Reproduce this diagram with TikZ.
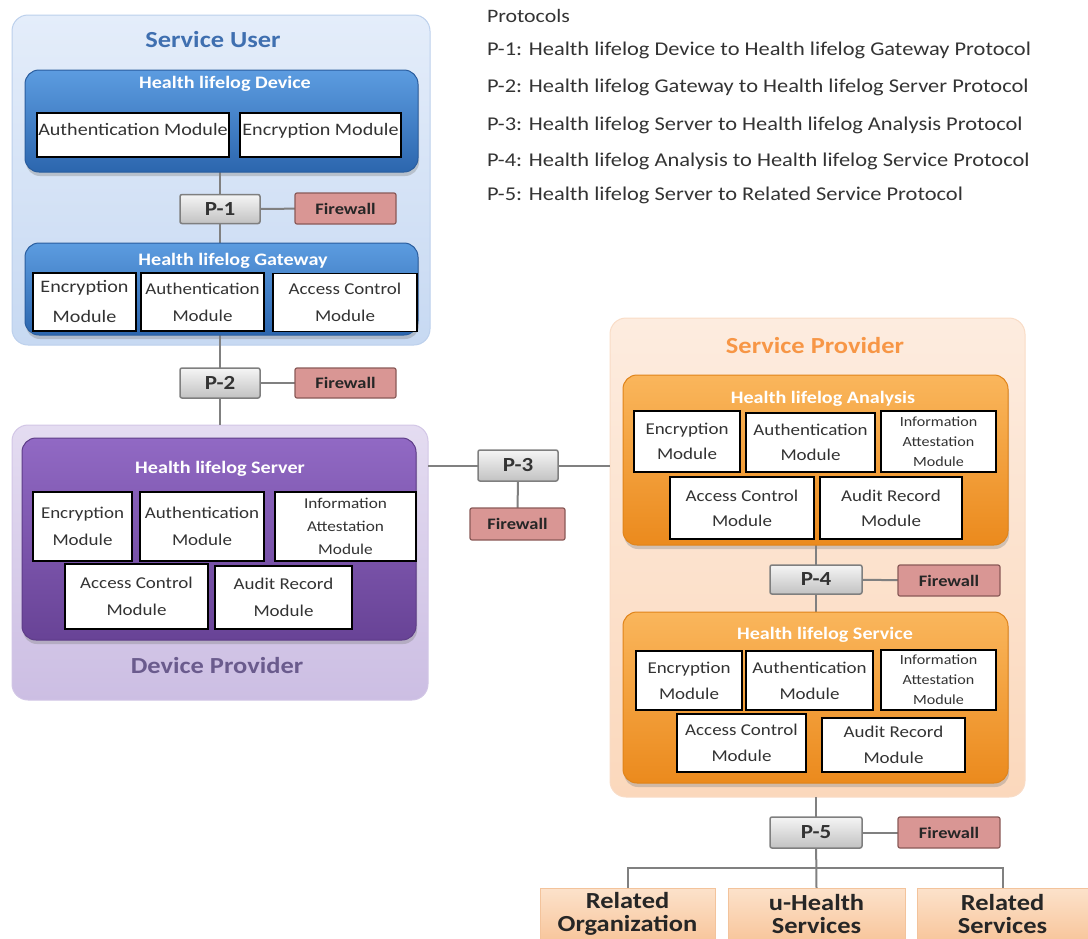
\documentclass[tikz,border=0pt]{standalone}
\usepackage{fontspec}
\setmainfont{Carlito}[FakeStretch=1.15]
\usetikzlibrary{shadows}
\pgfdeclarelayer{outer}
\pgfdeclarelayer{lines}
\pgfsetlayers{outer,lines,main}
\definecolor{suTop}{HTML}{E4EDFA}
\definecolor{suBot}{HTML}{C7D9F2}
\definecolor{suBorder}{HTML}{BCD0EC}
\definecolor{devTop}{HTML}{5C9CE0}
\definecolor{devBot}{HTML}{2C66AE}
\definecolor{devBorder}{HTML}{2A5D9E}
\definecolor{dpTop}{HTML}{E4DCF1}
\definecolor{dpBot}{HTML}{CCBEE3}
\definecolor{dpBorder}{HTML}{D2C6E6}
\definecolor{srvTop}{HTML}{9169C4}
\definecolor{srvBot}{HTML}{684396}
\definecolor{srvBorder}{HTML}{5E3D88}
\definecolor{spTop}{HTML}{FDECDF}
\definecolor{spBot}{HTML}{FBD8BC}
\definecolor{spBorder}{HTML}{F9DCC6}
\definecolor{oTop}{HTML}{FAB65C}
\definecolor{oBot}{HTML}{EB8A1D}
\definecolor{oBorder}{HTML}{E0841A}
\definecolor{pTop}{HTML}{F5F5F5}
\definecolor{pBot}{HTML}{C2C2C2}
\definecolor{pBorder}{HTML}{7F7F7F}
\definecolor{fwFill}{HTML}{D99694}
\definecolor{fwBorder}{HTML}{8A5A58}
\definecolor{bTop}{HTML}{FCE2CB}
\definecolor{bBot}{HTML}{F8C69C}
\definecolor{bBorder}{HTML}{F3C39B}
\definecolor{suTitle}{HTML}{3F6FB0}
\definecolor{dpTitle}{HTML}{6A5B8D}
\definecolor{spTitle}{HTML}{F79646}
\definecolor{txt}{HTML}{333333}
\begin{document}
\begin{tikzpicture}[x=1pt,y=-1pt,
  every node/.style={inner sep=0pt, outer sep=0pt},
  outerbox/.style={rounded corners=16pt, line width=1pt},
  innerbox/.style={rounded corners=14pt, line width=1pt,
    drop shadow={opacity=0.35, shadow xshift=1pt, shadow yshift=-4pt}},
  grptitle/.style={font=\fontsize{23}{26}\selectfont\bfseries},
  innertitle/.style={font=\fontsize{17.5}{20}\selectfont\bfseries, text=white},
  mod/.style={draw=black, line width=1.3pt, fill=white, text=txt, align=center,
    font=\fontsize{16.5}{27}\selectfont},
  modinfo/.style={mod, font=\fontsize{14}{20}\selectfont},
  pbox/.style={draw=pBorder, line width=1.5pt, rounded corners=2pt,
    top color=pTop, bottom color=pBot, text=txt,
    font=\fontsize{20}{22}\selectfont\bfseries, minimum height=29pt},
  fwbox/.style={draw=fwBorder, line width=1.2pt, rounded corners=2pt,
    fill=fwFill, text=black!85, font=\fontsize{16}{18}\selectfont\bfseries,
    minimum width=101pt, minimum height=31pt},
  conn/.style={draw=black!50, line width=2pt},
  endbox/.style={draw=bBorder, line width=1pt, top color=bTop, bottom color=bBot,
    text=black!85, align=center, font=\fontsize{23}{23}\selectfont\bfseries,
    minimum height=52pt},
  prot/.style={anchor=west, text=txt, font=\fontsize{19.5}{22}\selectfont}
]
\useasboundingbox (0,0) rectangle (1088,938);

% ---------- outer groups ----------
\begin{pgfonlayer}{outer}
\node[outerbox, draw=suBorder, top color=suTop, bottom color=suBot,
  minimum width=418pt, minimum height=330pt] (su) at (221,180) {};
\node[outerbox, draw=dpBorder, top color=dpTop, bottom color=dpBot,
  minimum width=416pt, minimum height=275pt] (dp) at (220,562.5) {};
\node[outerbox, draw=spBorder, top color=spTop, bottom color=spBot,
  minimum width=415pt, minimum height=479pt] (sp) at (817.5,557.5) {};
\end{pgfonlayer}

\node[grptitle, text=suTitle] (tsu) at (213,40) {Service User};
\node[grptitle, text=dpTitle] (tdp) at (217,666) {Device Provider};
\node[grptitle, text=spTitle] (tsp) at (815,346) {Service Provider};

% ---------- Health lifelog Device ----------
\node[innerbox, draw=devBorder, top color=devTop, bottom color=devBot,
  minimum width=393pt, minimum height=102pt] (dev) at (221.5,121) {};
\node[innertitle] (tdev) at (225,84) {Health lifelog Device};
\node[mod, font=\fontsize{17.5}{20}\selectfont, text depth=12pt, minimum width=192pt, minimum height=44pt] (devA) at (133,135) {Authentication Module};
\node[mod, font=\fontsize{17.5}{20}\selectfont, text depth=12pt, minimum width=161pt, minimum height=44pt] (devE) at (320.5,135) {Encryption Module};

% ---------- Health lifelog Gateway ----------
\node[innerbox, draw=devBorder, top color=devTop, bottom color=devBot,
  minimum width=393pt, minimum height=92pt] (gw) at (221.5,289) {};
\node[innertitle] (tgw) at (233,261) {Health lifelog Gateway};
\node[mod, font=\fontsize{17.5}{30}\selectfont, minimum width=103pt, minimum height=58pt] (gwE) at (84.5,302) {Encryption\\Module};
\node[mod, minimum width=123pt, minimum height=58pt] (gwA) at (202.5,302) {Authentication\\Module};
\node[mod, minimum width=144pt, minimum height=58pt] (gwC) at (345,302.5) {Access Control\\Module};

% ---------- Health lifelog Server ----------
\node[innerbox, draw=srvBorder, top color=srvTop, bottom color=srvBot,
  minimum width=394pt, minimum height=202pt] (srv) at (219,539) {};
\node[innertitle] (tsrv) at (220,469) {Health lifelog Server};
\node[mod, minimum width=99pt, minimum height=69pt] (srvE) at (82.5,526.5) {Encryption\\Module};
\node[mod, minimum width=124pt, minimum height=69pt] (srvA) at (202,526.5) {Authentication\\Module};
\node[modinfo, font=\fontsize{15}{23}\selectfont, minimum width=141pt, minimum height=69pt] (srvI) at (345.5,526.5) {Information\\Attestation\\Module};
\node[mod, minimum width=143pt, minimum height=65pt] (srvC) at (136.5,596.5) {Access Control\\Module};
\node[mod, minimum width=137pt, minimum height=63pt] (srvR) at (283.5,597.5) {Audit Record\\Module};

% ---------- Health lifelog Analysis ----------
\node[innerbox, draw=oBorder, top color=oTop, bottom color=oBot,
  minimum width=385pt, minimum height=170pt] (ana) at (815.5,460) {};
\node[innertitle] (tana) at (823,399) {Health lifelog Analysis};
\node[mod, font=\fontsize{16.5}{25}\selectfont, minimum width=106pt, minimum height=61pt] (anaE) at (687,441.5) {Encryption\\Module};
\node[mod, font=\fontsize{16.5}{25}\selectfont, minimum width=129pt, minimum height=59pt] (anaA) at (810.5,442.5) {Authentication\\Module};
\node[modinfo, minimum width=115pt, minimum height=61pt] (anaI) at (938.5,441.5) {Information\\Attestation\\Module};
\node[mod, font=\fontsize{16.5}{25}\selectfont, minimum width=144pt, minimum height=62pt] (anaC) at (742,508) {Access Control\\Module};
\node[mod, font=\fontsize{16.5}{25}\selectfont, minimum width=142pt, minimum height=62pt] (anaR) at (891,508) {Audit Record\\Module};

% ---------- Health lifelog Service ----------
\node[innerbox, draw=oBorder, top color=oTop, bottom color=oBot,
  minimum width=385pt, minimum height=171pt] (svc) at (815.5,697.5) {};
\node[innertitle] (tsvc) at (825,635) {Health lifelog Service};
\node[mod, font=\fontsize{16.5}{26}\selectfont, minimum width=106pt, minimum height=59pt] (svcE) at (689,680.5) {Encryption\\Module};
\node[mod, font=\fontsize{16.5}{26}\selectfont, minimum width=127pt, minimum height=59pt] (svcA) at (809.5,680.5) {Authentication\\Module};
\node[modinfo, minimum width=115pt, minimum height=60pt] (svcI) at (938.5,680) {Information\\Attestation\\Module};
\node[mod, font=\fontsize{16.5}{26}\selectfont, minimum width=129pt, minimum height=58pt] (svcC) at (741.5,743) {Access Control\\Module};
\node[mod, font=\fontsize{16.5}{26}\selectfont, minimum width=143pt, minimum height=54pt] (svcR) at (893.5,745) {Audit Record\\Module};

% ---------- protocols and firewalls ----------
\node[pbox, minimum width=80pt] (p1) at (220,209) {P-1};
\node[fwbox] (fw1) at (345.5,208.5) {Firewall};
\node[pbox, minimum width=80pt, minimum height=30pt] (p2) at (220,383) {P-2};
\node[fwbox, minimum height=30pt] (fw2) at (345.5,383) {Firewall};
\node[pbox, minimum width=80pt, minimum height=31pt] (p3) at (518,465.5) {P-3};
\node[fwbox, minimum width=95pt, minimum height=32pt] (fw3) at (517.5,524) {Firewall};
\node[pbox, minimum width=92pt] (p4) at (816,579.5) {P-4};
\node[fwbox, minimum width=102pt] (fw4) at (949,580.5) {Firewall};
\node[pbox, minimum width=92pt, minimum height=31pt] (p5) at (816,832.5) {P-5};
\node[fwbox, minimum width=102pt] (fw5) at (949,832.5) {Firewall};

% ---------- related services ----------
\node[endbox, minimum width=175pt] (b1) at (627.5,914) {Related\\Organization};
\node[endbox, minimum width=177pt] (b2) at (816.5,914) {u-Health\\Services};
\node[endbox, minimum width=171pt] (b3) at (1002.5,914) {Related\\Services};
\coordinate (bus) at (816,868);

% ---------- connectors ----------
\begin{pgfonlayer}{lines}
\draw[conn] (p1) -- (p1 |- dev.south);
\draw[conn] (p1) -- (p1 |- gw.north);
\draw[conn] (p1) -- (fw1);
\draw[conn] (p2) -- (p2 |- gw.south);
\draw[conn] (p2) -- (p2 |- dp.north);
\draw[conn] (p2) -- (fw2);
\draw[conn] (p3) -- (p3 -| dp.east);
\draw[conn] (p3) -- (p3 -| sp.west);
\draw[conn] (p3) -- (fw3);
\draw[conn] (p4) -- (p4 |- ana.south);
\draw[conn] (p4) -- (p4 |- svc.north);
\draw[conn] (p4) -- (fw4);
\draw[conn] (p5) -- (p5 |- sp.south);
\draw[conn] (p5) -- (fw5);
\draw[conn] (p5) -- (b2.north);
\draw[conn] (b1.north) |- (bus) -| (b3.north);
\end{pgfonlayer}

% ---------- protocol legend ----------
\node[prot, font=\fontsize{19}{22}\selectfont] (lh) at (487,16) {Protocols};
\node[prot] (l1) at (487,50) {P-1: Health lifelog Device to Health lifelog Gateway Protocol};
\node[prot] (l2) at (487,87) {P-2: Health lifelog Gateway to Health lifelog Server Protocol};
\node[prot] (l3) at (487,125) {P-3: Health lifelog Server to Health lifelog Analysis Protocol};
\node[prot] (l4) at (487,161) {P-4: Health lifelog Analysis to Health lifelog Service Protocol};
\node[prot] (l5) at (487,195) {P-5: Health lifelog Server to Related Service Protocol};
\end{tikzpicture}
\end{document}
